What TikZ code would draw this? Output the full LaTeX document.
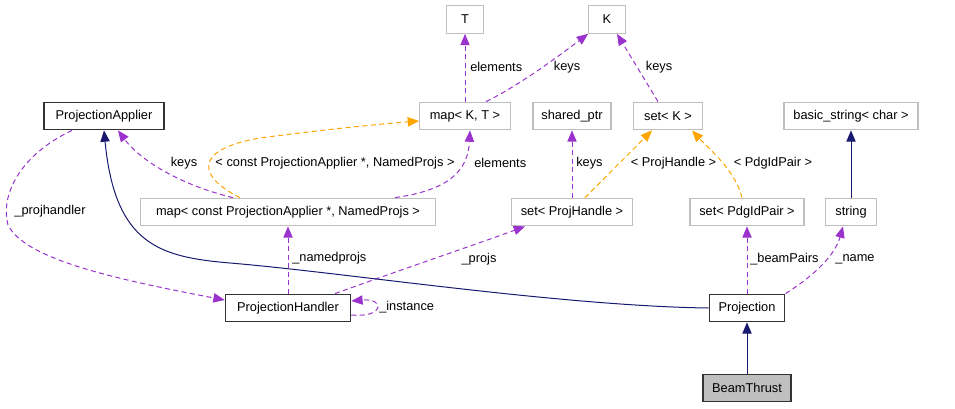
\documentclass[tikz,border=0pt]{standalone}
\usepackage{fontspec}
\setmainfont{Liberation Sans}
\usetikzlibrary{arrows.meta,calc}
\definecolor{dpurple}{HTML}{9A32CD}
\definecolor{dorange}{HTML}{FFA500}
\definecolor{dnavy}{HTML}{191970}
\definecolor{dgray}{HTML}{BFBFBF}
\begin{document}
\begin{tikzpicture}[x=0.75pt,y=-0.75pt,
  font=\fontsize{9.6}{11}\selectfont,
  box/.style={draw=dgray,line width=0.9pt,fill=white,minimum height=20.7pt,inner sep=0pt},
  docbox/.style={box,draw=black!80},
  lbl/.style={inner sep=0pt},
  tip/.style={-{Triangle[length=8.5pt,width=7pt]}},
  rel/.style={tip,draw=dpurple,line width=0.75pt,dash pattern=on 3.75pt off 2.6pt},
  tmpl/.style={tip,draw=dorange,line width=0.75pt,dash pattern=on 3.75pt off 2.6pt},
  inh/.style={tip,draw=dnavy,line width=0.75pt}]
\useasboundingbox (0,0) rectangle (955,408);
% nodes
\node[box,minimum width=27.5pt] (T) at (465,19.5) {T};
\node[box,minimum width=27.5pt] (K) at (607,19.5) {K};
\node[docbox,minimum width=90pt] (PA) at (104,116) {ProjectionApplier};
\node[box,minimum width=68pt] (mapKT) at (465,116) {map< K, T >};
\node[box,minimum width=58.5pt] (sptr) at (572,116) {shared\_ptr};
\node[box,minimum width=51.5pt] (setK) at (668,116) {set< K >};
\node[box,minimum width=100.5pt] (bstr) at (851,116) {basic\_string< char >};
\node[box,minimum width=220.7pt] (mapC) at (288,212) {map< const ProjectionApplier *, NamedProjs >};
\node[box,minimum width=90.5pt] (setPH) at (572,212) {set< ProjHandle >};
\node[box,minimum width=85.5pt] (setPdg) at (747,212) {set< PdgIdPair >};
\node[box,minimum width=38.8pt] (str) at (851,212) {string};
\node[docbox,minimum width=94pt] (PH) at (288,308) {ProjectionHandler};
\node[docbox,minimum width=56.8pt] (Proj) at (747,308) {Projection};
\node[docbox,fill=dgray,minimum width=66pt] (BT) at (747,388) {BeamThrust};
% edges
\draw[rel] (mapKT.north) -- (T.south);
\node[lbl,anchor=west] (l1) at (470,67) {elements};
\draw[rel] ($(mapKT.north)+(21,0)$) .. controls (520,85) and (560,55) .. (K.south west);
\node[lbl] (l2) at (567,67) {keys};
\draw[rel] ($(setK.north)+(-10,0)$) -- ($(K.south)+(10,0)$);
\node[lbl] (l3) at (659,67) {keys};
\draw[rel] (setPH.north) -- (sptr.south);
\node[lbl,anchor=west] (l4) at (576,163) {keys};
\draw[tmpl] ($(setPH.north)+(13,0)$) -- ($(setK.south)+(-16,0)$);
\node[lbl] (l5) at (673.5,163) {< ProjHandle >};
\draw[tmpl] ($(setPdg.north)+(-5,0)$) .. controls (735,170) and (710,150) .. ($(setK.south)+(24,0)$);
\node[lbl] (l6) at (773,163) {< PdgIdPair >};
\draw[inh] (str.north) -- (bstr.south);
\draw[rel] ($(mapC.north)+(-55,0)$) .. controls (180,185) and (140,160) .. ($(PA.south)+(14,0)$);
\node[lbl] (l7) at (184,163) {keys};
\draw[rel] ($(mapC.north)+(107,0)$) .. controls (450,190) and (468,170) .. ($(mapKT.south)+(5,0)$);
\node[lbl,anchor=west] (l8) at (474,163) {elements};
\draw[tmpl] ($(mapC.north)+(-48,0)$) .. controls (200,178) and (190,150) .. (260,138) .. controls (320,130) and (380,124) .. ($(mapKT.west)+(0,5)$);
\node[lbl] (l9) at (335,163) {< const ProjectionApplier *, NamedProjs >};
\draw[rel] (PH.north) -- (mapC.south);
\node[lbl,anchor=west] (l10) at (292,258) {\_namedprojs};
\draw[rel] ($(PH.north)+(47,0)$) .. controls (400,270) and (480,243) .. ($(setPH.south)+(-47,0)$);
\node[lbl] (l11) at (479,259) {\_projs};
\draw[rel] ($(PA.south)+(-32,0)$) .. controls (20,155) and (0,195) .. (8,225) .. controls (25,260) and (120,280) .. ($(PH.west)+(0,-8)$);
\node[lbl] (l12) at (50,211) {\_projhandler};
\draw[rel] ($(PH.east)+(0,7)$) .. controls (385,318) and (385,298) .. ($(PH.east)+(0,-7)$);
\node[lbl,anchor=west] (l13) at (379,307) {\_instance};
\draw[inh] (Proj.west) .. controls (560,306) and (340,272) .. (230,263) .. controls (160,257) and (115,245) .. (PA.south);
\draw[inh] (BT.north) -- (Proj.south);
\draw[rel] (Proj.north) -- (setPdg.south);
\node[lbl,anchor=west] (l14) at (750,259) {\_beamPairs};
\draw[rel] (Proj.north east) .. controls (815,275) and (835,255) .. ($(str.south)+(-8,0)$);
\node[lbl] (l15) at (855,259) {\_name};
\end{tikzpicture}
\end{document}
